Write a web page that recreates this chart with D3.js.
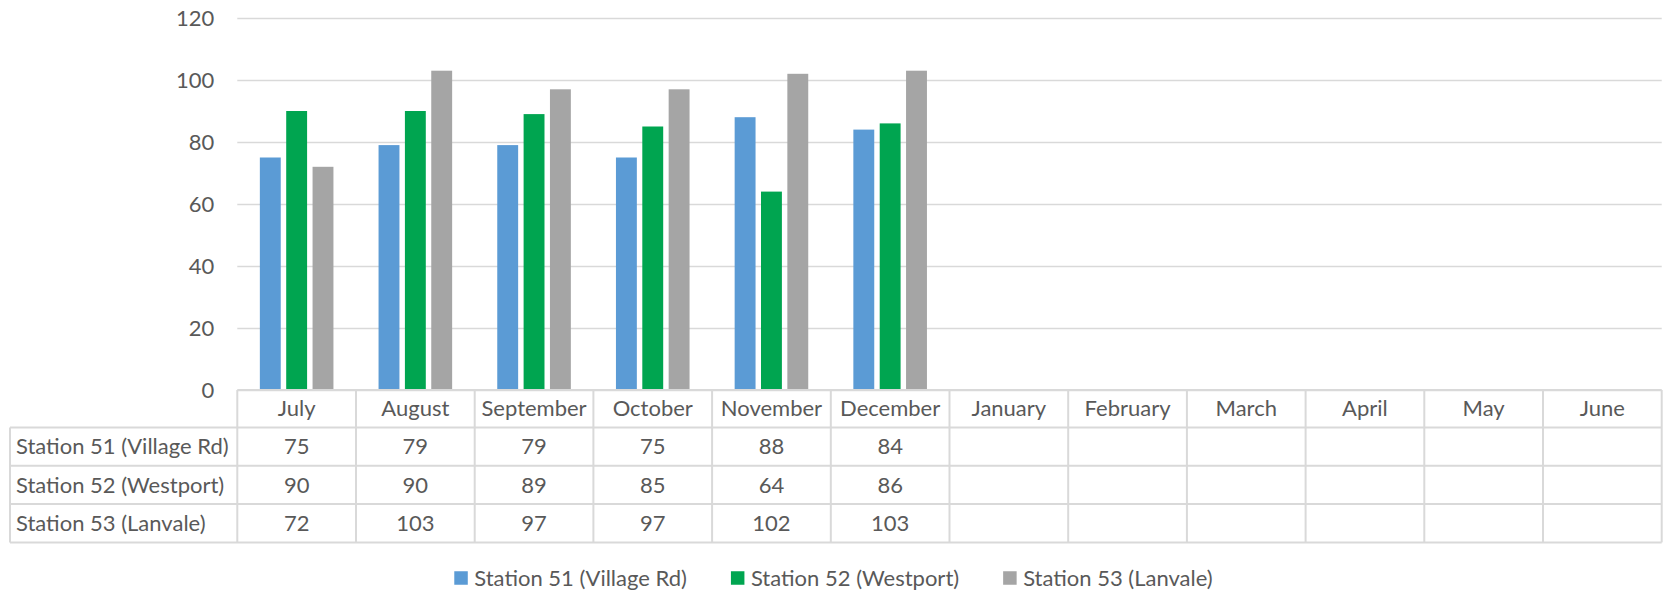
<!DOCTYPE html>
<html>
<head>
<meta charset="utf-8">
<script src="https://cdn.jsdelivr.net/npm/d3@7"></script>
<style>
  body { margin: 0; background: #fff; }
  svg { display: block; font-family: Lato, "Open Sans", sans-serif; }
</style>
</head>
<body>
<div class="chart"></div>
<script>
// data
var months = ["July", "August", "September", "October", "November", "December",
  "January", "February", "March", "April", "May", "June"];
var seriesNames = ["Station 51 (Village Rd)", "Station 52 (Westport)", "Station 53 (Lanvale)"];
var station51 = [75, 79, 79, 75, 88, 84, null, null, null, null, null, null];
var station52 = [90, 90, 89, 85, 64, 86, null, null, null, null, null, null];
var station53 = [72, 103, 97, 97, 102, 103, null, null, null, null, null, null];
var yTicks = [0, 20, 40, 60, 80, 100, 120];
var colors = ["#5B9BD5", "#00A550", "#A5A5A5"];

var svgWidth = 1663;
var svgHeight = 592;

var plotLeft = 237.3, plotRight = 1661.7;
var plotTop = 18, plotBottom = 390;
var tableLeft = 10;
var rowH = 38.3;
var headerH = 37.5;
var fontSize = 22;
var textColor = "#595959";
var lineColor = "#D9D9D9";

var svg = d3.select(".chart")
  .append("svg")
  .attr("width", svgWidth)
  .attr("height", svgHeight);

// scales
var x = d3.scaleBand()
  .domain(months)
  .range([plotLeft, plotRight])
  .padding(0);

var y = d3.scaleLinear()
  .domain([0, 120])
  .range([plotBottom, plotTop]);

var band = x.bandwidth();
var barW = band * 0.176;
var step = band * 0.222;
var groupW = 2 * step + barW;
var xs = d3.scaleOrdinal()
  .domain(seriesNames)
  .range([0, 1, 2].map(i => (band - groupW) / 2 + i * step));

// gridlines + y labels
var yAxis = d3.axisLeft(y)
  .tickValues(yTicks)
  .tickSize(-(plotRight - plotLeft))
  .tickPadding(23);

var yG = svg.append("g")
  .attr("transform", `translate(${plotLeft},0)`)
  .call(yAxis);
yG.select(".domain").remove();
yG.selectAll(".tick line")
  .attr("stroke", lineColor)
  .attr("stroke-width", 1.7);
yG.selectAll(".tick text")
  .attr("fill", textColor)
  .attr("font-size", fontSize)
  .attr("font-family", "Lato, sans-serif");

// bars
var allSeries = [station51, station52, station53];
var barData = [];
allSeries.forEach(function(vals, si) {
  vals.forEach(function(v, mi) {
    if (v !== null) barData.push({ month: months[mi], series: seriesNames[si], value: v, si: si });
  });
});

svg.append("g").selectAll("rect")
  .data(barData)
  .enter()
  .append("rect")
  .attr("x", d => x(d.month) + xs(d.series))
  .attr("y", d => y(d.value))
  .attr("width", barW)
  .attr("height", d => y(0) - y(d.value))
  .attr("fill", d => colors[d.si]);

// data table
var table = svg.append("g");
var tableTop = plotBottom;
var rowsTop = tableTop + headerH;
var tableBottom = rowsTop + rowH * 3;

// header row
table.append("line")
  .attr("x1", plotLeft).attr("x2", plotRight)
  .attr("y1", tableTop).attr("y2", tableTop)
  .attr("stroke", lineColor).attr("stroke-width", 2);

// horizontal row lines
d3.range(4).forEach(function(i) {
  table.append("line")
    .attr("x1", tableLeft).attr("x2", plotRight)
    .attr("y1", rowsTop + i * rowH).attr("y2", rowsTop + i * rowH)
    .attr("stroke", lineColor).attr("stroke-width", 2);
});

// vertical lines
var colEdges = months.map(m => x(m)).concat([plotRight]);
table.selectAll(".vline")
  .data(colEdges)
  .enter()
  .append("line")
  .attr("x1", d => d).attr("x2", d => d)
  .attr("y1", tableTop).attr("y2", tableBottom)
  .attr("stroke", lineColor).attr("stroke-width", 2);
table.append("line")
  .attr("x1", tableLeft).attr("x2", tableLeft)
  .attr("y1", rowsTop).attr("y2", tableBottom)
  .attr("stroke", lineColor).attr("stroke-width", 2);

// month labels
table.selectAll(".month")
  .data(months)
  .enter()
  .append("text")
  .attr("x", d => x(d) + band / 2)
  .attr("y", tableTop + headerH / 2)
  .attr("dy", "0.35em")
  .attr("text-anchor", "middle")
  .attr("fill", textColor)
  .attr("font-size", fontSize)
  .text(d => d);

// row labels + values
seriesNames.forEach(function(name, si) {
  var cy = rowsTop + si * rowH + rowH / 2;
  table.append("text")
    .attr("x", 16)
    .attr("y", cy)
    .attr("dy", "0.35em")
    .attr("fill", textColor)
    .attr("font-size", fontSize)
    .text(name);
  table.selectAll(".val" + si)
    .data(allSeries[si].map((v, mi) => ({ v: v, m: months[mi] })).filter(d => d.v !== null))
    .enter()
    .append("text")
    .attr("x", d => x(d.m) + band / 2)
    .attr("y", cy)
    .attr("dy", "0.35em")
    .attr("text-anchor", "middle")
    .attr("fill", textColor)
    .attr("font-size", fontSize)
    .text(d => d.v);
});

// legend
var legend = svg.append("g");
var legendY = 578;
var sw = 13.5, swGap = 6.5, itemGap = 44;
var items = legend.selectAll("g")
  .data(seriesNames)
  .enter()
  .append("g");
items.append("rect")
  .attr("width", sw).attr("height", sw)
  .attr("y", legendY - sw / 2)
  .attr("fill", (d, i) => colors[i]);
items.append("text")
  .attr("x", sw + swGap)
  .attr("y", legendY)
  .attr("dy", "0.35em")
  .attr("fill", textColor)
  .attr("font-size", fontSize)
  .text(d => d);

var widths = [];
items.each(function() { widths.push(this.getBBox().width); });
var total = d3.sum(widths) + itemGap * (widths.length - 1);
var lx = 833.5 - total / 2;
items.attr("transform", function(d, i) {
  var t = `translate(${lx},0)`;
  lx += widths[i] + itemGap;
  return t;
});
</script>
</body>
</html>
